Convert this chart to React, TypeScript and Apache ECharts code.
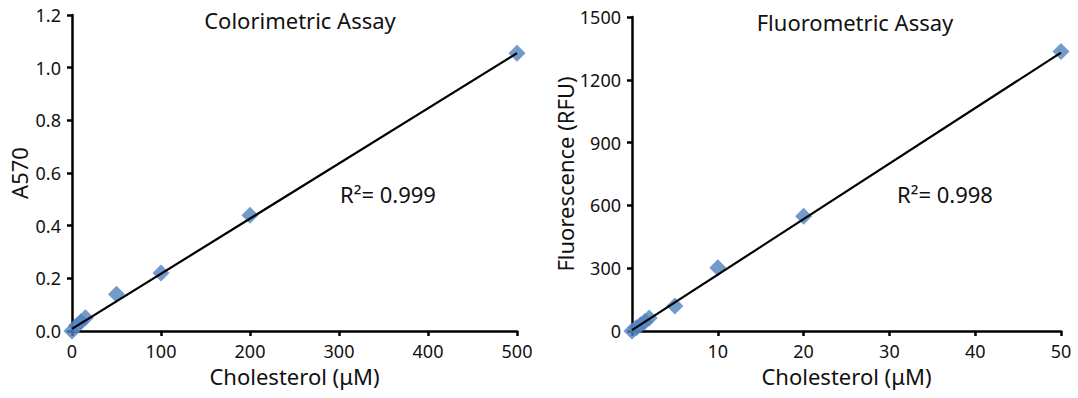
import React, { useEffect, useRef } from "react";
import * as echarts from "echarts";

// Colorimetric assay (left)
const colorX = [0, 5, 10, 15, 50, 100, 200, 500];
const colorY = [0, 0.02, 0.035, 0.05, 0.14, 0.22, 0.44, 1.055];
const colorTrendX = [0, 500];
const colorTrendY = [0.008, 1.055];
const colorR2 = "R\u00B2= 0.999";

// Fluorometric assay (right)
const fluorX = [0, 0.5, 1, 1.5, 2, 5, 10, 20, 50];
const fluorY = [0, 15, 30, 45, 62, 119, 302, 548, 1335];
const fluorTrendX = [0, 50];
const fluorTrendY = [4, 1330];
const fluorR2 = "R\u00B2= 0.998";

const titles = ["Colorimetric Assay", "Fluorometric Assay"];
const xName = "Cholesterol (\u03BCM)";
const yNames = ["A570", "Fluorescence (RFU)"];

const FONT = "Noto Sans";
const BLUE = "#4F81BD";

export default function App() {
  const ref = useRef<HTMLDivElement>(null);
  useEffect(() => {
    if (!ref.current) return;
    const chart = echarts.init(ref.current, undefined, { renderer: "svg" });
    const axisCommon = {
      axisLine: { show: true, onZero: false, lineStyle: { color: "#000", width: 2.5 } },
      axisTick: { show: true, inside: false, length: 5, lineStyle: { color: "#000", width: 2.5 } },
      splitLine: { show: false },
      nameLocation: "middle" as const,
      nameTextStyle: { fontFamily: FONT, fontSize: 22, color: "#111" },
    };
    const labelStyle = { fontFamily: FONT, fontSize: 18, color: "#111" };
    const titleStyle = { fontFamily: FONT, fontSize: 22, fontWeight: "normal" as const, color: "#111" };
    chart.setOption({
      animation: false,
      backgroundColor: "#fff",
      title: [
        { text: titles[0], left: 295, top: 4, textAlign: "center", textStyle: titleStyle },
        { text: titles[1], left: 850, top: 6, textAlign: "center", textStyle: titleStyle },
      ],
      grid: [
        { left: 72, top: 15, width: 445, height: 316 },
        { left: 632, top: 17, width: 429, height: 314 },
      ],
      xAxis: [
        {
          ...axisCommon, type: "value", gridIndex: 0, min: 0, max: 500, interval: 100,
          name: xName, nameGap: 33,
          axisLabel: { ...labelStyle, margin: 11 },
        },
        {
          ...axisCommon, type: "value", gridIndex: 1, min: 0, max: 50, interval: 10,
          name: xName, nameGap: 33,
          axisLabel: { ...labelStyle, margin: 11, formatter: (v: number) => (v === 0 ? "" : String(v)) },
        },
      ],
      yAxis: [
        {
          ...axisCommon, type: "value", gridIndex: 0, min: 0, max: 1.2, interval: 0.2,
          name: yNames[0], nameGap: 42,
          axisLabel: { ...labelStyle, margin: 11, formatter: (v: number) => v.toFixed(1) },
        },
        {
          ...axisCommon, type: "value", gridIndex: 1, min: 0, max: 1500, interval: 300,
          name: yNames[1], nameGap: 56,
          axisLabel: { ...labelStyle, margin: 11, formatter: (v: number) => String(v) },
        },
      ],
      series: [
        {
          type: "scatter", xAxisIndex: 0, yAxisIndex: 0, symbol: "diamond", symbolSize: 17,
          itemStyle: { color: BLUE }, clip: false, z: 2,
          data: colorX.map((x, i) => [x, colorY[i]]),
        },
        {
          type: "line", xAxisIndex: 0, yAxisIndex: 0, showSymbol: false, symbol: "none",
          lineStyle: { color: "#000", width: 2.2 }, z: 3,
          data: colorTrendX.map((x, i) => [x, colorTrendY[i]]),
        },
        {
          type: "scatter", xAxisIndex: 1, yAxisIndex: 1, symbol: "diamond", symbolSize: 17,
          itemStyle: { color: BLUE }, clip: false, z: 2,
          data: fluorX.map((x, i) => [x, fluorY[i]]),
        },
        {
          type: "line", xAxisIndex: 1, yAxisIndex: 1, showSymbol: false, symbol: "none",
          lineStyle: { color: "#000", width: 2.2 }, z: 3,
          data: fluorTrendX.map((x, i) => [x, fluorTrendY[i]]),
        },
      ],
      graphic: [
        { type: "text", left: 340, top: 183, style: { text: colorR2, fontFamily: FONT, fontSize: 22, fill: "#111" } },
        { type: "text", left: 897, top: 183, style: { text: fluorR2, fontFamily: FONT, fontSize: 22, fill: "#111" } },
      ],
    });
    return () => chart.dispose();
  }, []);
  return (
    <div
      ref={ref}
      style={{ position: "fixed", left: 0, top: 0, width: 1078, height: 398, background: "#fff" }}
    />
  );
}
